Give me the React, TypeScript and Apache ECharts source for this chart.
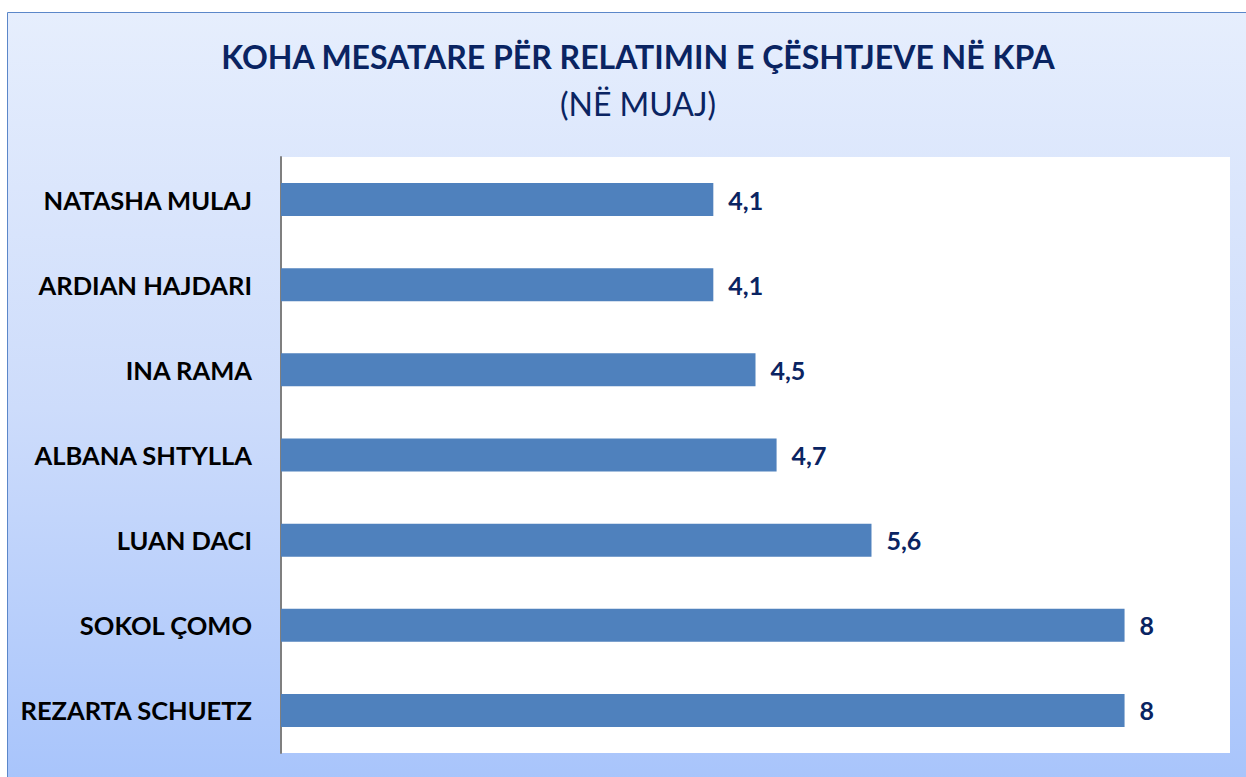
import React, { useEffect, useRef } from "react";
import * as echarts from "echarts";

const categories = [
  "NATASHA MULAJ",
  "ARDIAN HAJDARI",
  "INA RAMA",
  "ALBANA SHTYLLA",
  "LUAN DACI",
  "SOKOL ÇOMO",
  "REZARTA SCHUETZ",
];
const values = [4.1, 4.1, 4.5, 4.7, 5.6, 8, 8];
const titleText = "KOHA MESATARE PËR RELATIMIN E ÇËSHTJEVE NË KPA";
const subtitleText = "(NË MUAJ)";

const FONT = "Lato, 'Open Sans', sans-serif";
const NAVY = "#0a2462";

export default function App() {
  const ref = useRef<HTMLDivElement>(null);
  useEffect(() => {
    if (!ref.current) return;
    const chart = echarts.init(ref.current, null, { renderer: "svg" });
    chart.setOption({
      animation: false,
      backgroundColor: "#ffffff",
      graphic: [
        {
          type: "rect",
          z: -10,
          shape: { x: 7.5, y: 12.5, width: 1260, height: 790 },
          style: {
            fill: new echarts.graphic.LinearGradient(0, 0, 0, 1, [
              { offset: 0, color: "#e6eefd" },
              { offset: 0.5, color: "#cddcfb" },
              { offset: 1, color: "#a6c3fb" },
            ]),
            stroke: "#5b87c9",
            lineWidth: 1,
          },
        },
      ],
      title: [
        {
          text: titleText,
          left: 633,
          textAlign: "center",
          top: 35,
          textStyle: {
            fontFamily: FONT,
            fontWeight: "bold",
            fontSize: 32,
            color: NAVY,
          },
        },
        {
          text: subtitleText,
          left: 633,
          textAlign: "center",
          top: 82,
          textStyle: {
            fontFamily: FONT,
            fontWeight: "normal",
            fontSize: 32,
            color: NAVY,
          },
        },
      ],
      grid: {
        left: 281,
        top: 157,
        right: 16,
        bottom: 24,
        show: true,
        backgroundColor: "#ffffff",
        borderWidth: 0,
        containLabel: false,
      },
      xAxis: {
        type: "value",
        min: 0,
        max: 9,
        show: false,
        splitLine: { show: false },
      },
      yAxis: {
        type: "category",
        data: categories,
        inverse: true,
        axisLine: { show: true, lineStyle: { color: "#7f7f7f", width: 2 } },
        axisTick: { show: false },
        axisLabel: {
          margin: 29,
          fontFamily: FONT,
          fontWeight: "bold",
          fontSize: 25.5,
          color: "#000000",
        },
      },
      series: [
        {
          type: "bar",
          data: values,
          barWidth: 33,
          itemStyle: { color: "#4f81bd" },
          label: {
            show: true,
            position: "right",
            distance: 15,
            fontFamily: FONT,
            fontWeight: "bold",
            fontSize: 25,
            color: NAVY,
            formatter: (p: any) => String(p.value).replace(".", ","),
          },
        },
      ],
    });
    return () => chart.dispose();
  }, []);
  return (
    <div
      ref={ref}
      style={{ position: "absolute", left: 0, top: 0, width: 1246, height: 777 }}
    />
  );
}
